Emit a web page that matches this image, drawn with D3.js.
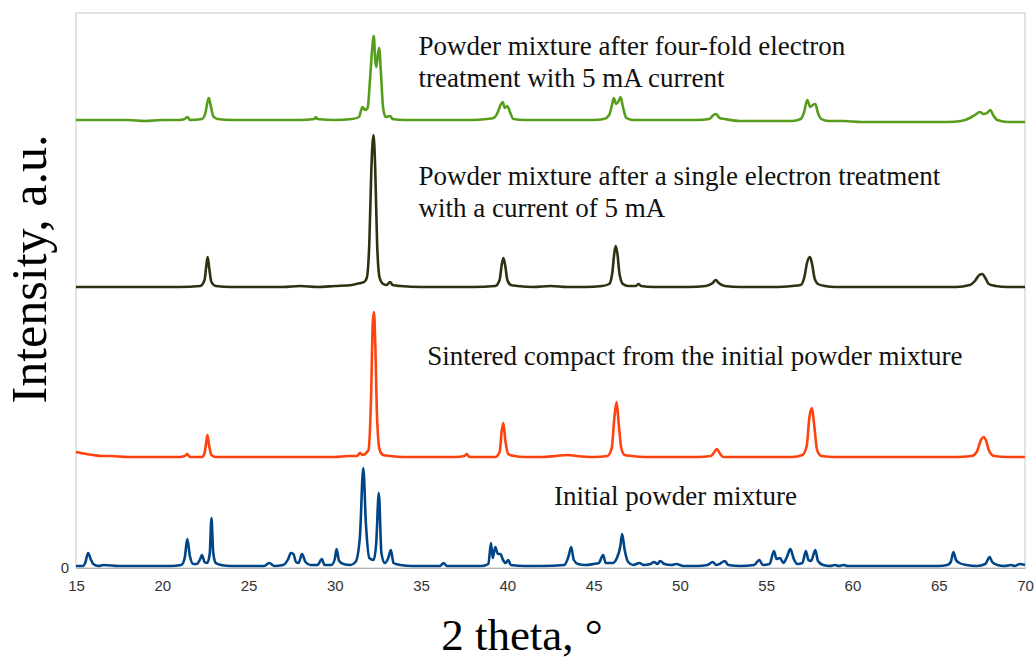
<!DOCTYPE html>
<html>
<head>
<meta charset="utf-8">
<script src="https://cdn.jsdelivr.net/npm/d3@7"></script>
<style>
  body { margin: 0; background: #fff; }
  svg { display: block; }
</style>
</head>
<body>
<div id="chart"></div>
<script>
// Patterns: [2 theta, intensity above the trace's own baseline]
const initialMix = [
  [15.0,2],[15.4,2],[15.55,6],[15.7,15],[15.85,9],[16.0,4],[16.3,2],[16.6,3],[17.5,2],[18.5,2],[19.5,2],[20.5,2],
  [21.1,3],[21.3,10],[21.45,29],[21.6,12],[21.8,4],[22.0,4],[22.2,9],[22.3,13],[22.45,6],[22.6,5],[22.75,14],[22.85,50],
  [22.95,16],[23.1,5],[23.4,3],[24.0,2],[25.0,2],[25.9,2],[26.2,5],[26.5,2],[27.0,3],[27.3,9],[27.45,15],[27.6,14],
  [27.75,6],[27.9,5],[28.1,14],[28.3,6],[28.6,3],[29.0,3],[29.25,9],[29.4,3],[29.8,3],[30.0,9],[30.1,19],[30.25,7],
  [30.5,4],[30.9,3],[31.2,6],[31.45,30],[31.65,100],[31.8,45],[32.0,10],[32.25,8],[32.4,25],[32.55,75],[32.7,15],
  [32.9,5],[33.1,10],[33.25,18],[33.4,5],[33.8,3],[34.5,2],[35.5,2],[36.1,2],[36.3,5],[36.5,2],[37.5,2],[38.5,2],
  [38.9,4],[39.05,25],[39.15,10],[39.3,21],[39.45,14],[39.6,14],[39.75,8],[39.9,5],[40.05,8],[40.2,3],[41,2],[42,2],
  [43.3,3],[43.55,12],[43.7,21],[43.85,8],[44.1,4],[44.5,3],[45,4],[45.3,5],[45.55,13],[45.7,5],[46.1,5],[46.35,10],
  [46.55,22],[46.65,34],[46.8,18],[47.0,6],[47.3,3],[47.65,5],[47.9,3],[48.3,4],[48.5,6],[48.7,4],[48.85,7],[49.1,4],
  [49.5,3],[49.8,4],[50.2,2],[51.0,2],[51.6,3],[51.9,6],[52.1,3],[52.3,4],[52.6,7],[52.8,3],[53.5,2],[54.3,3],
  [54.6,8],[54.8,3],[55.2,4],[55.45,17],[55.6,9],[55.8,10],[56.0,5],[56.2,11],[56.4,19],[56.6,9],[56.8,4],[57.1,5],
  [57.3,17],[57.45,8],[57.6,7],[57.85,18],[58.0,7],[58.3,3],[58.7,2],[59.0,3],[59.2,2],[59.5,3],[59.7,2],[61,2],
  [62,2],[63,2],[64,2],[65,2],[65.5,3],[65.7,6],[65.85,16],[66.0,8],[66.2,5],[66.6,3],[67.2,2],[67.7,4],[67.95,11],
  [68.1,6],[68.4,3],[68.8,2],[69.2,3],[69.4,2],[69.7,4],[70,3]
];

const sintered = [
  [15.0,6],[15.3,5],[15.6,4],[16.0,3],[16.5,2],[17,2],[18,1],[19,1],[20,1],[21.0,1],[21.3,2],[21.45,4],[21.6,1],
  [22.3,1],[22.45,5],[22.55,16],[22.62,23],[22.7,14],[22.85,3],[23.1,1],[24,1],[25,1],[26,1],[27,1],[28,1],[29,1],
  [30,1],[30.8,2],[31.3,2],[31.45,5],[31.6,3],[31.95,8],[32.1,60],[32.2,135],[32.27,146],[32.35,110],[32.45,40],
  [32.6,8],[32.8,3],[33.2,2],[34,1],[35,1],[36,1],[37,1],[37.5,2],[37.65,4],[37.8,1],[38.5,1],[39.3,1],[39.55,6],
  [39.68,28],[39.77,35],[39.88,18],[40.05,4],[40.4,2],[41,1],[42,1],[42.8,2],[43.5,3],[44,2],[45,1],[45.8,2],
  [46.05,10],[46.2,40],[46.33,56],[46.45,35],[46.6,10],[46.8,3],[47.2,2],[48,1],[49,1],[50,1],[51,1],[51.8,2],
  [52.0,6],[52.15,9],[52.3,5],[52.5,1],[53.5,1],[54.5,1],[55.5,1],[56.5,1],[57.1,3],[57.35,12],[57.5,40],[57.65,50],
  [57.8,30],[57.95,8],[58.2,2],[59,1],[60,1],[61,1],[62,1],[63,1],[64,1],[65,1],[66,1],[66.9,2],[67.2,6],
  [67.45,18],[67.6,21],[67.75,17],[67.9,8],[68.2,2],[69,1],[70,1]
];

const singleTreat = [
  [15,1],[16,1],[17,1],[18,1],[19,1],[20,1],[21,1],[22.2,2],[22.45,8],[22.55,22],[22.63,31],[22.72,20],[22.85,6],
  [23.1,2],[24,1],[25,1],[26,1],[27,1],[28,2],[29,1],[30,2],[31,3],[31.5,5],[31.7,6],[31.85,10],[32.0,45],
  [32.12,120],[32.24,153],[32.34,120],[32.45,45],[32.6,10],[32.8,4],[33.0,3],[33.2,6],[33.35,3],[33.8,2],[35,1],
  [36,1],[37,1],[38,1],[39.3,2],[39.55,8],[39.68,24],[39.77,30],[39.88,22],[40.0,8],[40.2,3],[40.6,2],[41.5,1],
  [42.5,2],[43.5,1],[44.5,1],[45.5,2],[45.9,4],[46.08,15],[46.2,35],[46.28,42],[46.38,34],[46.5,14],[46.7,4],
  [47.0,2],[47.45,2],[47.6,4],[47.75,2],[48.5,1],[49.5,1],[50.5,1],[51.5,2],[51.9,5],[52.08,8],[52.25,5],[52.6,2],
  [53.5,1],[54.5,1],[55.5,1],[56.5,2],[57.0,3],[57.2,10],[57.38,26],[57.54,31],[57.66,24],[57.8,10],[58.0,4],
  [58.4,2],[59,1],[60,1],[61,1],[62,1],[63,1],[64,1],[65,1],[66,1],[66.8,3],[67.1,7],[67.35,13],[67.53,14],
  [67.7,10],[67.9,4],[68.3,2],[69,1],[70,1]
];

const fourFold = [
  [15,2],[16,2],[17,2],[18,2],[19,1],[20,2],[21,2],[21.3,3],[21.47,5],[21.6,2],[22.3,3],[22.5,9],[22.62,20],
  [22.7,24],[22.8,17],[22.95,6],[23.2,3],[24,2],[25,2],[26,2],[27,2],[28,2],[28.8,3],[28.9,5],[29.0,3],[30,2],
  [31,3],[31.4,5],[31.6,15],[31.75,12],[31.9,14],[32.05,45],[32.15,70],[32.26,86],[32.34,62],[32.41,55],[32.5,68],
  [32.57,74],[32.67,50],[32.8,14],[32.95,5],[33.2,6],[33.35,3],[34,2],[35,2],[36,2],[37,2],[38,2],[38.8,3],
  [39.2,4],[39.45,10],[39.6,17],[39.73,20],[39.85,14],[40.0,16],[40.15,10],[40.35,3],[41,2],[42,2],[43,2],[44,2],
  [45,2],[45.6,3],[45.9,7],[46.05,16],[46.17,24],[46.3,18],[46.45,21],[46.56,25],[46.7,15],[46.9,4],[47.3,2],
  [48,2],[49,2],[50,2],[51,2],[51.7,3],[51.95,7],[52.1,8],[52.3,4],[52.6,3],[53.5,1],[54.5,1],[55.5,1],[56.5,1],
  [57.0,3],[57.2,10],[57.38,22],[57.55,15],[57.7,17],[57.85,18],[58.0,9],[58.2,3],[58.6,1],[59.5,1],[60.5,0],
  [61.5,0],[62.5,0],[63.5,0],[64.5,0],[65.5,0],[66.3,1],[66.8,4],[67.1,7],[67.38,10],[67.6,8],[67.8,9],[68.0,12],
  [68.15,7],[68.4,2],[69,0],[70,0]
];

// vertical offsets of the stacked traces (a.u.)
const seriesNames = ["initial", "sintered", "single", "fourfold"];
const seriesData = [initialMix, sintered, singleTreat, fourFold];
const offsets = [0, 110, 280, 446];
const colors = ["#004586", "#ff420e", "#2d3311", "#579d1c"];

const labelLines = [
  ["Powder mixture after four-fold electron", "treatment with 5 mA current"],
  ["Powder mixture after a single electron treatment", "with a current of 5 mA"],
  ["Sintered compact from the initial powder mixture"],
  ["Initial powder mixture"]
];
const labelX = [34.85, 34.85, 35.35, 42.7];   // 2 theta where each label starts
const labelY = [513, 383, 203, 63];           // a.u. of first baseline

const xTicks = [15, 20, 25, 30, 35, 40, 45, 50, 55, 60, 65, 70];
const yTicks = [0];

const margin = { top: 13, right: 11, bottom: 93, left: 76 };
const W = 1036, H = 661;
const width = W - margin.left - margin.right;
const height = H - margin.top - margin.bottom;

const svg = d3.select("#chart").append("svg")
    .attr("width", W)
    .attr("height", H);

const g = svg.append("g")
    .attr("transform", `translate(${margin.left},${margin.top})`);

const x = d3.scaleLinear().domain([15, 70]).range([0, width]);
const y = d3.scaleLinear().domain([0, 555]).range([height, 0]);

// frame
g.append("rect")
    .attr("width", width)
    .attr("height", height)
    .attr("fill", "none")
    .attr("stroke", "#c8c8c8")
    .attr("stroke-width", 1);

// x axis
const xAxis = g.append("g")
    .attr("transform", `translate(0,${height})`)
    .call(d3.axisBottom(x).tickValues(xTicks).tickSize(0).tickPadding(12));
xAxis.select(".domain").attr("stroke", "#b3b3b3");
xAxis.selectAll("text")
    .attr("font-family", "Liberation Sans, Arial, sans-serif")
    .attr("font-size", 15)
    .attr("fill", "#333");

// y axis (just the zero)
const yAxis = g.append("g")
    .call(d3.axisLeft(y).tickValues(yTicks).tickSize(0).tickPadding(7));
yAxis.select(".domain").remove();
yAxis.selectAll("text")
    .attr("font-family", "Liberation Sans, Arial, sans-serif")
    .attr("font-size", 15)
    .attr("fill", "#333");

// traces
const line = d3.line()
    .x(d => x(d[0]))
    .y(d => y(d[1]))
    .curve(d3.curveMonotoneX);

seriesData.forEach((data, i) => {
    g.append("path")
        .datum(data.map(d => [d[0], d[1] + offsets[i]]))
        .attr("class", "trace " + seriesNames[i])
        .attr("fill", "none")
        .attr("stroke", colors[i])
        .attr("stroke-width", 2.6)
        .attr("stroke-linejoin", "round")
        .attr("d", line);
});

// trace labels
labelLines.forEach((lines, i) => {
    const t = g.append("text")
        .attr("font-family", "Liberation Serif, Times New Roman, serif")
        .attr("font-size", 27)
        .attr("fill", "#111");
    lines.forEach((s, j) => {
        t.append("tspan")
            .attr("x", x(labelX[i]))
            .attr("y", y(labelY[i]) + j * 31.5)
            .text(s);
    });
});

// axis titles
svg.append("text")
    .attr("x", 522)
    .attr("y", 650)
    .attr("text-anchor", "middle")
    .attr("font-family", "Liberation Serif, Times New Roman, serif")
    .attr("font-size", 45)
    .attr("fill", "#000")
    .text("2 theta, \u00b0");

svg.append("text")
    .attr("transform", "translate(46,269) rotate(-90)")
    .attr("text-anchor", "middle")
    .attr("font-family", "Liberation Serif, Times New Roman, serif")
    .attr("font-size", 50)
    .attr("fill", "#000")
    .text("Intensity, a.u.");
</script>
</body>
</html>
